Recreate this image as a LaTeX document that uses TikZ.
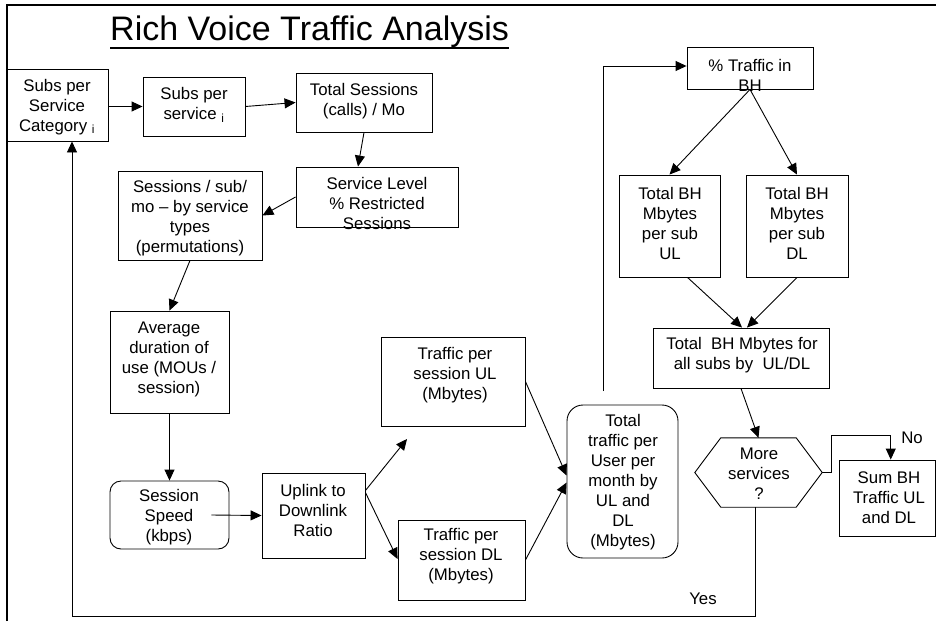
\documentclass[tikz,border=0pt]{standalone}
\usepackage{fontspec}
\setmainfont{Liberation Sans}
\usetikzlibrary{arrows.meta}
\begin{document}
\begin{tikzpicture}[x=1pt,y=-1pt,
  box/.style={draw, line width=0.9pt, inner sep=0pt},
  txt/.style={align=center, inner sep=0pt, font=\fontsize{16.8}{20}\selectfont},
  arr/.style={line width=0.9pt, -{Triangle[length=11pt,width=10pt]}},
  ]
% page
\fill[white] (0,0) rectangle (936,621);
\useasboundingbox (0,0) rectangle (936,621);
\draw[line width=2.8pt] (7,621) -- (7,5) -- (936,5);

% title
\node[anchor=base west, inner sep=0pt, font=\fontsize{34}{38}\selectfont] (title) at (110,40) {Rich Voice Traffic Analysis};
\draw[line width=2pt] ([yshift=-8pt]title.base west) -- ([yshift=-8pt]title.base east);

% boxes
\node[box, minimum width=101pt, minimum height=72pt] (n1) at (57.5,105) {};
\node[box, minimum width=102pt, minimum height=59pt] (n2) at (194,106.5) {};
\node[box, minimum width=136pt, minimum height=59pt] (n3) at (364,102.5) {};
\node[box, minimum width=162pt, minimum height=60pt] (n4) at (377,197) {};
\node[box, minimum width=144pt, minimum height=89pt] (n5) at (190,215.5) {};
\node[box, minimum width=119pt, minimum height=102pt] (n6) at (169.5,362) {};
\node[box, rounded corners=11pt, minimum width=119pt, minimum height=68pt] (n7) at (169.5,515) {};
\node[box, minimum width=103pt, minimum height=85pt] (n8) at (313.5,515.5) {};
\node[box, minimum width=144pt, minimum height=89pt] (n9) at (453,381.5) {};
\node[box, minimum width=127pt, minimum height=80pt] (n10) at (461.5,560) {};
\node[box, rounded corners=16pt, minimum width=111pt, minimum height=153pt] (n11) at (622.5,481.5) {};
\node[box, minimum width=126pt, minimum height=42pt] (n12) at (750,68) {};
\node[box, minimum width=101pt, minimum height=102pt] (n13) at (669.5,226) {};
\node[box, minimum width=102pt, minimum height=102pt] (n14) at (797,226) {};
\node[box, minimum width=176pt, minimum height=60pt] (n15) at (741,358) {};
\node[inner sep=0pt, minimum width=127pt, minimum height=69pt] (hex) at (758.5,472.5) {};
\draw[line width=0.9pt] ([xshift=26pt]hex.north west) -- ([xshift=-26pt]hex.north east) -- (hex.east)
  -- ([xshift=-26pt]hex.south east) -- ([xshift=26pt]hex.south west) -- (hex.west) -- cycle;
\node[box, minimum width=96.5pt, minimum height=76pt] (n17) at (887.25,498) {};

% texts
\node[txt] (t1) at (57,107) {Subs per\\Service\\Category~\textsubscript{i}};
\node[txt] (t2) at (194,105) {Subs per\\service~\textsubscript{i}};
\node[txt] (t3) at (364,101) {Total Sessions\\(calls) / Mo};
\node[txt] (t4) at (377,203) {Service Level\\\% Restricted\\Sessions};
\node[txt] (t5) at (190,218) {Sessions / sub/\\mo – by service\\types\\(permutations)};
\node[txt] (t6) at (169,359) {Average\\duration of\\use (MOUs /\\session)};
\node[txt] (t7) at (169,517) {Session\\Speed\\(kbps)};
\node[txt] (t8) at (313,510) {Uplink to\\Downlink\\Ratio};
\node[txt] (t9) at (455,375) {Traffic per\\session UL\\(Mbytes)};
\node[txt] (t10) at (461,556) {Traffic per\\session DL\\(Mbytes)};
\node[txt] (t11) at (623,482) {Total\\traffic per\\User per\\month by\\UL and\\DL\\(Mbytes)};
\node[txt] (t12) at (750,75.5) {\% Traffic in\\BH};
\node[txt] (t13) at (670,223) {Total BH\\Mbytes\\per sub\\UL};
\node[txt] (t14) at (797,223) {Total BH\\Mbytes\\per sub\\DL};
\node[txt] (t15) at (742,355.5) {Total~ BH Mbytes for\\all subs by~ UL/DL};
\node[txt] (t16) at (759,474) {More\\services\\?};
\node[txt] (t17) at (889,498) {Sum BH\\Traffic UL\\and DL};
\node[txt] (no) at (912,438) {No};
\node[txt] (yes) at (703,599) {Yes};

% connectors
\coordinate (up9) at (407,439);
\coordinate (up11) at (603,391);
\draw[arr] (n2.west -| n1.east) -- (n2.west);
\draw[arr] (n2.east) -- (n3.west);
\draw[arr] (n3.south) -- ([xshift=-19pt]n4.north);
\draw[arr] (n4.west) -- (n5.east);
\draw[arr] (n5.south) -- (n6.north);
\draw[arr] (n6.south) -- (n7.north);
\draw[arr] ([xshift=-18pt]n7.east) -- (n8.west);
\draw[arr] ([yshift=25pt]n8.east) -- (up9);
\draw[arr] ([yshift=23pt]n8.east) -- ([yshift=1pt]n10.west);
\draw[arr] (n9.east) -- ([yshift=6pt]n11.west);
\draw[arr] (n10.east) -- ([yshift=-1pt]n11.west);
\draw[arr] (up11) |- ([yshift=2pt]n12.west);
\draw[arr] (n12.south) -- (n13.north);
\draw[arr] (n12.south) -- (n14.north);
\draw[arr] ([xshift=18pt]n13.south) -- ([xshift=1pt]n15.north);
\draw[arr] (n14.south) -- ([xshift=6pt]n15.north);
\draw[arr] (n15.south) -- (hex.north);
\draw[arr] (hex.east) -- ++(9,0) -- ++(0,-37.5) -| ([xshift=3.5pt]n17.north);
\draw[arr] ([xshift=-3.5pt]hex.south) -- ++(0,109) -| ([xshift=14.5pt]n1.south);
\end{tikzpicture}
\end{document}
